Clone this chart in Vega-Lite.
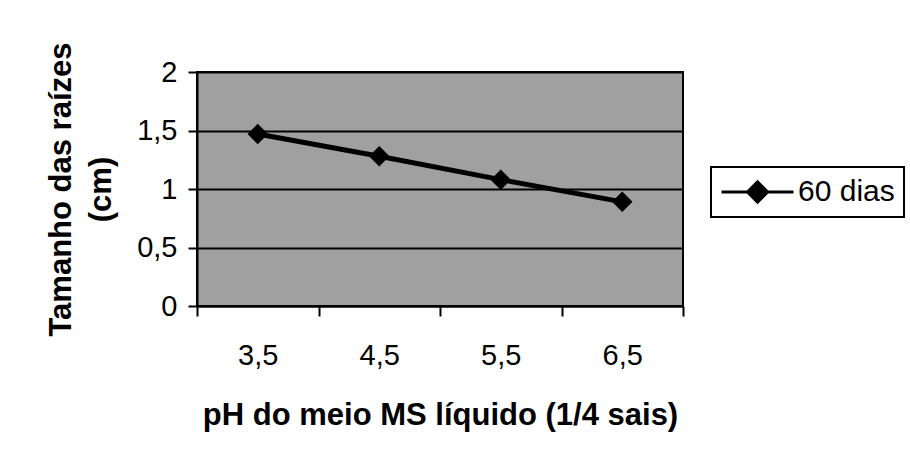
{
  "$schema": "https://vega.github.io/schema/vega-lite/v6.json",
  "autosize": {"type": "none"},
  "width": 486,
  "height": 234,
  "padding": {"left": 197, "top": 72, "right": 227, "bottom": 163},
  "background": "white",
  "config": {
    "font": "Liberation Sans",
    "view": {"fill": "#a0a0a0", "stroke": "black", "strokeWidth": 2},
    "axis": {"domainColor": "black", "domainWidth": 2, "tickColor": "black", "tickWidth": 2, "labelColor": "black", "titleColor": "black", "labelFont": "Liberation Sans", "titleFont": "Liberation Sans"}
  },
  "data": {
    "values": [
      {"pH": "3,5", "tamanho": 1.47, "serie": "60 dias"},
      {"pH": "4,5", "tamanho": 1.28, "serie": "60 dias"},
      {"pH": "5,5", "tamanho": 1.08, "serie": "60 dias"},
      {"pH": "6,5", "tamanho": 0.89, "serie": "60 dias"}
    ]
  },
  "mark": {"type": "line", "strokeWidth": 5, "point": {"shape": "diamond", "size": 420, "filled": true, "opacity": 1}},
  "encoding": {
    "x": {
      "field": "pH", "type": "ordinal", "sort": null,
      "scale": {"type": "band", "paddingInner": 0, "paddingOuter": 0},
      "axis": {
        "title": "pH do meio MS líquido (1/4 sais)",
        "titleFontSize": 31, "titleFontWeight": "bold", "titlePadding": 30,
        "labelFontSize": 29, "labelFontWeight": "normal", "labelPadding": 25, "labelAngle": 0,
        "tickBand": "extent", "tickSize": 10, "grid": false
      }
    },
    "y": {
      "field": "tamanho", "type": "quantitative",
      "scale": {"domain": [0, 2], "nice": false, "zero": true},
      "axis": {
        "title": ["Tamanho das raízes", "(cm)"],
        "titleFontSize": 31, "titleFontWeight": "bold", "titleLineHeight": 40,
        "titleAngle": -90, "titleBaseline": "alphabetic", "titleAlign": "center",
        "titleX": -127, "titleY": 117,
        "values": [0, 0.5, 1, 1.5, 2],
        "labelExpr": "replace(format(datum.value, '.1~f'), '.', ',')",
        "labelFontSize": 29, "labelPadding": 11, "tickSize": 9,
        "grid": true, "gridColor": "black", "gridWidth": 2, "gridOpacity": 1
      }
    },
    "color": {
      "field": "serie", "type": "nominal",
      "scale": {"range": ["black"]},
      "legend": {
        "title": null, "orient": "none", "legendX": 514, "legendY": 95,
        "labelFontSize": 30, "labelFont": "Liberation Sans", "labelColor": "black", "labelOffset": 3,
        "padding": 9, "clipHeight": 32, "strokeColor": "black", "cornerRadius": 0, "fillColor": "white",
        "symbolType": "M-1,0L-0.28,0L0,-0.28L0.28,0L0,0.28L-0.28,0Z M0.28,0L1,0",
        "symbolSize": 5184, "symbolStrokeWidth": 3, "symbolFillColor": "black", "symbolStrokeColor": "black",
        "encode": {
          "legend": {"update": {"strokeWidth": {"value": 2}}},
          "symbols": {"update": {"fill": {"value": "black"}, "stroke": {"value": "black"}, "strokeWidth": {"value": 3}, "shape": {"value": "M-1,0L-0.28,0L0,-0.28L0.28,0L0,0.28L-0.28,0Z M0.28,0L1,0"}, "size": {"value": 5184}, "opacity": {"value": 1}}}
        }
      }
    }
  }
}
